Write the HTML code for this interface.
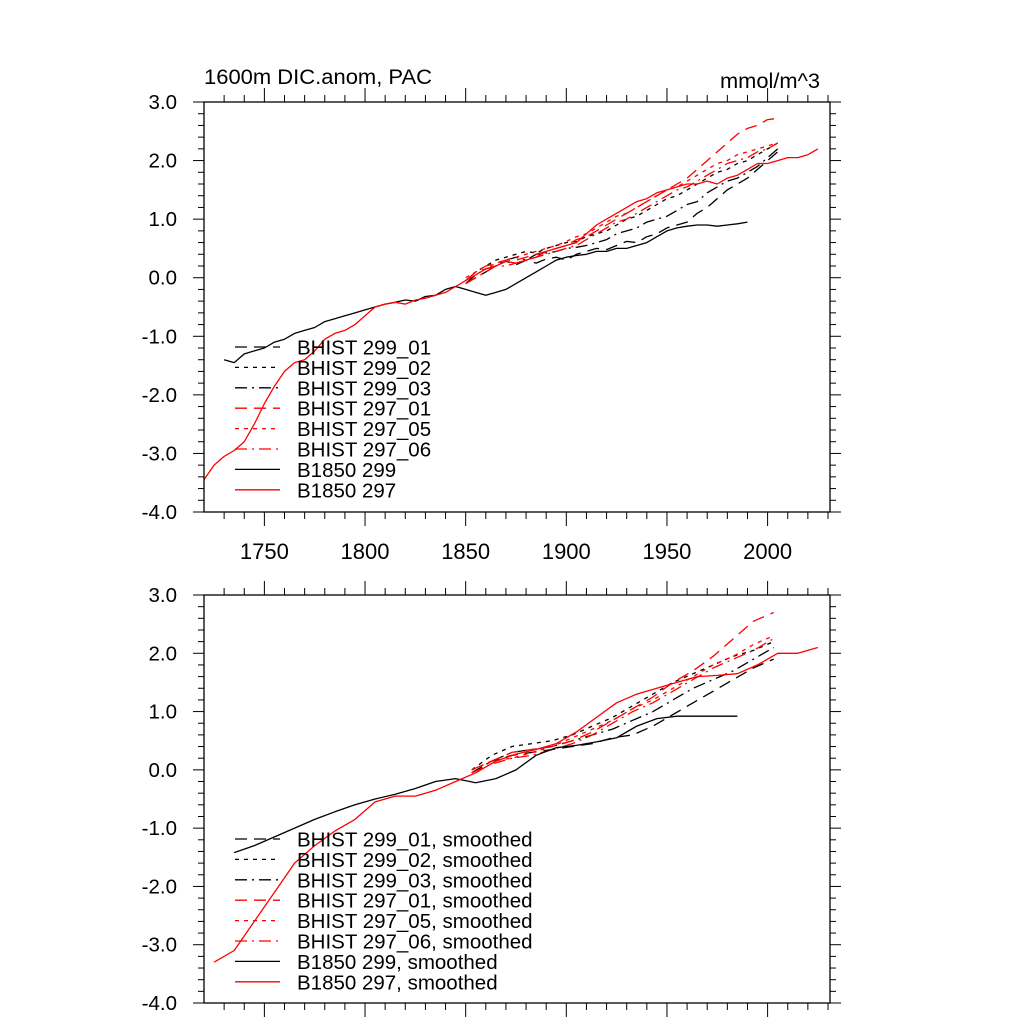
<!DOCTYPE html>
<html><head><meta charset="utf-8"><style>
html,body{margin:0;padding:0;background:#fff;}
svg{display:block;font-family:"Liberation Sans",sans-serif;}
</style></head><body>
<svg id="chart" width="1024" height="1024" viewBox="0 0 1024 1024" xmlns="http://www.w3.org/2000/svg">
<rect width="1024" height="1024" fill="#fff"/>
<text x="204" y="84" font-size="21.5" textLength="228" lengthAdjust="spacingAndGlyphs">1600m DIC.anom, PAC</text>
<text x="720" y="88" font-size="21.5" textLength="100" lengthAdjust="spacingAndGlyphs">mmol/m^3</text>
</svg>
<script>
const yTicks=[3.0,2.0,1.0,0.0,-1.0,-2.0,-3.0,-4.0];
const xTicks=[1750,1800,1850,1900,1950,2000];
const names=["BHIST 299_01","BHIST 299_02","BHIST 299_03","BHIST 297_01","BHIST 297_05","BHIST 297_06","B1850 299","B1850 297"];
// raw (5-yr) series
const rawH299_01=[-0.1,0.0,0.1,0.2,0.28,0.22,0.3,0.25,0.32,0.35,0.3,0.4,0.45,0.5,0.48,0.55,0.62,0.6,0.7,0.75,0.85,0.9,0.95,1.1,1.2,1.35,1.5,1.6,1.7,1.85,2.0,2.15];
const rawH299_02=[-0.05,0.1,0.2,0.3,0.35,0.4,0.45,0.42,0.5,0.55,0.6,0.62,0.7,0.75,0.8,0.9,1.0,1.05,1.15,1.25,1.35,1.4,1.5,1.6,1.7,1.8,1.85,1.95,2.0,2.1,2.2,2.3];
const rawH299_03=[-0.1,0.05,0.15,0.2,0.3,0.35,0.3,0.4,0.42,0.45,0.5,0.52,0.55,0.6,0.65,0.75,0.8,0.85,0.95,1.0,1.05,1.15,1.25,1.3,1.45,1.55,1.65,1.7,1.8,1.9,2.05,2.2];
const rawH297_01=[-0.05,0.1,0.2,0.25,0.3,0.3,0.35,0.4,0.45,0.5,0.55,0.65,0.7,0.8,0.9,1.0,1.1,1.2,1.3,1.4,1.5,1.6,1.7,1.85,2.0,2.15,2.3,2.45,2.55,2.6,2.7,2.72];
const rawH297_05=[0.0,0.1,0.15,0.25,0.3,0.35,0.4,0.45,0.5,0.55,0.62,0.7,0.75,0.85,0.95,1.05,1.1,1.2,1.3,1.4,1.5,1.55,1.65,1.75,1.85,1.95,2.0,2.1,2.15,2.2,2.25,2.3];
const rawH297_06=[-0.1,0.0,0.1,0.2,0.2,0.25,0.3,0.35,0.4,0.45,0.5,0.55,0.65,0.75,0.85,0.95,1.0,1.1,1.2,1.3,1.4,1.5,1.55,1.65,1.75,1.85,1.95,2.0,2.05,2.15,2.2,2.3];
const rawB299=[-1.4,-1.45,-1.3,-1.25,-1.2,-1.1,-1.05,-0.95,-0.9,-0.85,-0.75,-0.7,-0.65,-0.6,-0.55,-0.5,-0.45,-0.42,-0.38,-0.4,-0.32,-0.3,-0.2,-0.15,-0.2,-0.25,-0.3,-0.25,-0.2,-0.1,0.0,0.1,0.2,0.3,0.35,0.38,0.4,0.45,0.45,0.5,0.5,0.55,0.6,0.7,0.8,0.85,0.88,0.9,0.9,0.88,0.9,0.92,0.95];
const rawB297=[-3.45,-3.2,-3.05,-2.95,-2.8,-2.5,-2.15,-1.85,-1.6,-1.45,-1.4,-1.25,-1.05,-0.95,-0.9,-0.8,-0.65,-0.5,-0.45,-0.42,-0.45,-0.38,-0.35,-0.3,-0.25,-0.15,-0.05,0.05,0.15,0.2,0.28,0.25,0.3,0.35,0.45,0.5,0.55,0.6,0.75,0.9,1.0,1.1,1.2,1.3,1.35,1.45,1.5,1.55,1.6,1.6,1.65,1.6,1.7,1.75,1.85,1.95,1.95,2.0,2.05,2.05,2.1,2.2];
// smoothed (10-yr) series
const smH299_01=[-0.05,0.15,0.25,0.3,0.35,0.4,0.45,0.55,0.6,0.75,0.95,1.15,1.35,1.55,1.75,1.9];
const smH299_02=[0.0,0.25,0.4,0.45,0.5,0.6,0.75,0.9,1.1,1.3,1.5,1.65,1.8,1.95,2.05,2.2];
const smH299_03=[-0.05,0.15,0.3,0.35,0.4,0.5,0.6,0.7,0.85,1.0,1.2,1.4,1.55,1.7,1.9,2.1];
const smH297_01=[0.0,0.15,0.3,0.35,0.4,0.5,0.65,0.85,1.05,1.25,1.5,1.7,1.95,2.25,2.55,2.7];
const smH297_05=[0.0,0.15,0.2,0.3,0.4,0.55,0.7,0.85,1.05,1.2,1.4,1.6,1.8,1.95,2.15,2.3];
const smH297_06=[-0.05,0.1,0.2,0.25,0.35,0.45,0.6,0.8,1.0,1.15,1.35,1.55,1.75,1.9,2.05,2.25];
const smB299=[-1.42,-1.3,-1.15,-1.0,-0.85,-0.72,-0.6,-0.5,-0.42,-0.32,-0.2,-0.15,-0.22,-0.15,0.0,0.25,0.38,0.42,0.48,0.55,0.75,0.88,0.92,0.92,0.92,0.92];
const smB297=[-3.3,-3.1,-2.6,-2.1,-1.6,-1.3,-1.05,-0.85,-0.55,-0.45,-0.45,-0.35,-0.2,-0.05,0.15,0.27,0.35,0.45,0.65,0.9,1.15,1.3,1.4,1.5,1.6,1.62,1.65,1.8,2.0,2.0,2.1];

const NS="http://www.w3.org/2000/svg";
const svg=document.getElementById('chart');
const styles=[
 {c:"#000",d:"12 7"},{c:"#000",d:"4 5"},{c:"#000",d:"12 5 2 5"},
 {c:"#f00",d:"12 7"},{c:"#f00",d:"4 5"},{c:"#f00",d:"12 5 2 5"},
 {c:"#000",d:""},{c:"#f00",d:""}];
const X0=1720,X1=2031,L=204,R=830;
function xs(yr){return L+(yr-X0)/(X1-X0)*(R-L);}
function mk(tag,attrs){const e=document.createElementNS(NS,tag);for(const k in attrs)e.setAttribute(k,attrs[k]);svg.appendChild(e);return e;}

function panel(top,bot,id,series,starts,steps,suffix,legTop,showXLabels){
  const ys=v=>top+(3-v)/7*(bot-top);
  const g=mk('g',{});
  
  
  for(let v=-4;v<=3.001;v+=0.2){
    const major=Math.abs(v-Math.round(v))<1e-6;const len=major?11:6;const y=ys(v);
    const t1=mk('line',{x1:L-len,x2:L,y1:y,y2:y,stroke:"#000","stroke-width":1});
    
    const t2=mk('line',{x1:R,x2:R+len,y1:y,y2:y,stroke:"#000","stroke-width":1});
    
  }
  for(let yr=1730;yr<=2030;yr+=10){
    const major=yr%50===0;const len=major?14:7;const x=xs(yr);
    const t1=mk('line',{x1:x,x2:x,y1:bot,y2:bot+len,stroke:"#000","stroke-width":1});
    
    const t2=mk('line',{x1:x,x2:x,y1:top-len,y2:top,stroke:"#000","stroke-width":1});
    
  }
  yTicks.forEach(v=>{
    const t=mk('text',{x:177,y:ys(v)+7,"font-size":20.5,"text-anchor":"end"});
    t.textContent=v.toFixed(1);
    
  });
  if(showXLabels) xTicks.forEach(yr=>{
    const t=mk('text',{x:xs(yr),y:559,"font-size":22,"text-anchor":"middle"});
    t.textContent=yr;
    
  });
  series.forEach((arr,i)=>{
    const pts=arr.map((v,j)=>xs(starts[i]+j*steps[i]).toFixed(1)+","+ys(v).toFixed(1)).join(" ");
    const p=mk('polyline',{points:pts,fill:"none",stroke:styles[i].c,"stroke-width":1.3,"stroke-dasharray":styles[i].d,"stroke-linejoin":"round"});
    
    
  });
  const box=mk('rect',{x:L,y:top,width:R-L,height:bot-top,fill:"none",stroke:"#000","stroke-width":1.3});
  
  names.forEach((n,i)=>{
    const y=legTop+i*20.4;
    const l=mk('line',{x1:235,x2:280,y1:y,y2:y,stroke:styles[i].c,"stroke-width":1.3,"stroke-dasharray":styles[i].d});
    
    const t=mk('text',{x:297,y:y+7.5,"font-size":20.5});
    t.textContent=n+suffix;
    
  });
}
panel(102,512,'raw',[rawH299_01,rawH299_02,rawH299_03,rawH297_01,rawH297_05,rawH297_06,rawB299,rawB297],
 [1850,1850,1850,1850,1850,1850,1730,1720],[5,5,5,5,5,5,5,5],"",347,true);
panel(595,1003,'smoothed',[smH299_01,smH299_02,smH299_03,smH297_01,smH297_05,smH297_06,smB299,smB297],
 [1853,1853,1853,1853,1853,1853,1735,1725],[10,10,10,10,10,10,10,10],", smoothed",839,false);
</script>
</body></html>
